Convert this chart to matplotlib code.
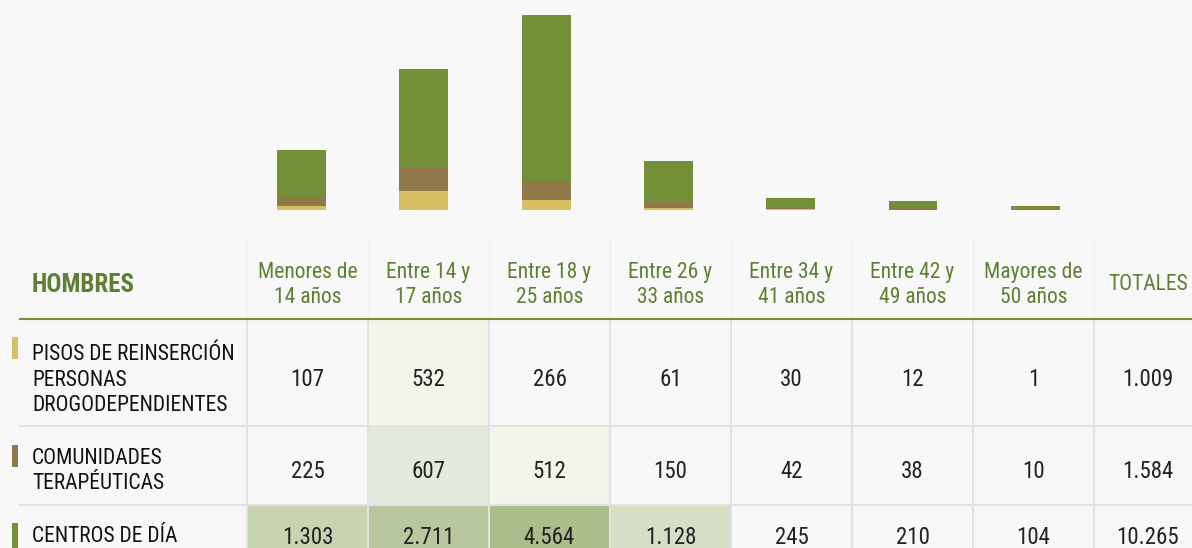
import matplotlib
matplotlib.use("Agg")
import matplotlib.pyplot as plt
from matplotlib import font_manager as fm
from matplotlib.colors import ListedColormap, BoundaryNorm
from matplotlib.patches import Rectangle

# data
age_groups = ["Menores de\n14 años", "Entre 14 y\n17 años", "Entre 18 y\n25 años",
              "Entre 26 y\n33 años", "Entre 34 y\n41 años", "Entre 42 y\n49 años",
              "Mayores de\n50 años"]
services = ["PISOS DE REINSERCIÓN\nPERSONAS\nDROGODEPENDIENTES",
            "COMUNIDADES\nTERAPÉUTICAS",
            "CENTROS DE DÍA"]
pisos = [107, 532, 266, 61, 30, 12, 1]
comunidades = [225, 607, 512, 150, 42, 38, 10]
centros = [1303, 2711, 4564, 1128, 245, 210, 104]
totales = [1009, 1584, 10265]

BG = "#f8f8f8"
YELLOW = "#d9bf63"
BROWN = "#8f7948"
GREEN = "#738f37"
HEAD = "#5f7f34"

# heatmap shades for table cells
heat_cmap = ListedColormap([BG, "#f2f5ea", "#e4eadb", "#d6dfc6", "#c8d3b1", "#b9c79e", "#abbd8a"])
heat_norm = BoundaryNorm([0, 500, 600, 1000, 1200, 2000, 3000, 10000], heat_cmap.N)


def pick_font():
    """find a narrow font, the original uses a condensed face"""
    fonts = fm.fontManager.ttflist
    names = {f.name for f in fonts}
    for n in ["Liberation Sans Narrow", "Roboto Condensed", "Open Sans Condensed",
              "Noto Sans Condensed", "DejaVu Sans Condensed"]:
        if n in names:
            return n, "normal", 1.0
    for stretch, scale in [("condensed", 1.0), ("semi-condensed", 0.93), ("extra-condensed", 1.05)]:
        for n in ["Noto Sans", "DejaVu Sans", "Roboto", "Open Sans", "Inter", "Liberation Sans"]:
            if any(f.name == n and f.stretch == stretch for f in fonts):
                return n, stretch, scale
    return "DejaVu Sans", "normal", 0.8


FAMILY, STRETCH, SCALE = pick_font()


def txt(ax, x, y, s, size, **kw):
    ax.text(x, y, s, fontsize=size * SCALE, family=[FAMILY, "DejaVu Sans"],
            fontstretch=STRETCH, **kw)


def fmt(v):
    return f"{v:,}".replace(",", ".")


W, H = 1192, 548
fig = plt.figure(figsize=(W / 100, H / 100), dpi=100, facecolor=BG)

# table layer in pixel coordinates
tab = fig.add_axes([0, 0, 1, 1])
tab.set_xlim(0, W)
tab.set_ylim(H, 0)
tab.axis("off")

col0 = 247
colw = 121
row_edges = [319, 426, 505, 600]

# header
txt(tab, 32, 285, "HOMBRES", 18, fontweight="bold", color=HEAD, ha="left", va="center")
for j, g in enumerate(age_groups):
    txt(tab, col0 + colw * (j + 0.5), 285, g, 15.5, color=HEAD,
        ha="center", va="center", linespacing=1.3)
txt(tab, 1148, 285, "TOTALES", 15.5, color=HEAD, ha="center", va="center")

rows = [pisos, comunidades, centros]
marker_colors = [YELLOW, BROWN, GREEN]
for i, vals in enumerate(rows):
    y0, y1 = row_edges[i], row_edges[i + 1]
    for j, v in enumerate(vals):
        tab.add_patch(Rectangle((col0 + colw * j, y0), colw, y1 - y0,
                                facecolor=heat_cmap(heat_norm(v)), edgecolor="none", zorder=1))
cell_y = [380, 471, 537]
marker_spans = [(337, 359), (445, 467), (523, 548)]
for i, vals in enumerate(rows):
    for j, v in enumerate(vals):
        txt(tab, col0 + colw * (j + 0.5), cell_y[i], fmt(v), 16.5, color="#222222",
            ha="center", va="center", zorder=3)
    txt(tab, 1148, cell_y[i], fmt(totales[i]), 16.5, color="#222222",
        ha="center", va="center", zorder=3)
    txt(tab, 32, cell_y[i], services[i], 15.5, color="#111111",
        ha="left", va="center", linespacing=1.3, zorder=3)
    m0, m1 = marker_spans[i]
    tab.add_patch(Rectangle((12, m0), 6, m1 - m0, facecolor=marker_colors[i],
                            edgecolor="none", zorder=3))

# grid lines
for k in range(len(age_groups) + 1):
    x = col0 + colw * k
    tab.plot([x, x], [240, 319], color="#f1f1f1", lw=1, zorder=2)
    tab.plot([x, x], [319, H], color="#e2e2e2", lw=1.5, zorder=2)
for y in row_edges[1:3]:
    tab.plot([20, W], [y, y], color="#e2e2e2", lw=1.5, zorder=2)
tab.plot([20, W], [319, 319], color=GREEN, lw=1.5, zorder=4)

# stacked bars
bar_ax = fig.add_axes([240.4 / W, (H - 210) / H, 856 / W, 210 / H])
bar_ax.set_facecolor("none")
x = range(len(age_groups))
bottom2 = pisos
bottom3 = [a + b for a, b in zip(pisos, comunidades)]
bar_ax.bar(x, pisos, width=0.4, color=YELLOW)
bar_ax.bar(x, comunidades, width=0.4, bottom=bottom2, color=BROWN)
bar_ax.bar(x, centros, width=0.4, bottom=bottom3, color=GREEN)
bar_ax.set_xlim(-0.5, len(age_groups) - 0.5)
bar_ax.set_ylim(0, 5342 * 210 / 195)
bar_ax.axis("off")

fig.savefig("out.png", dpi=100, facecolor=BG)
